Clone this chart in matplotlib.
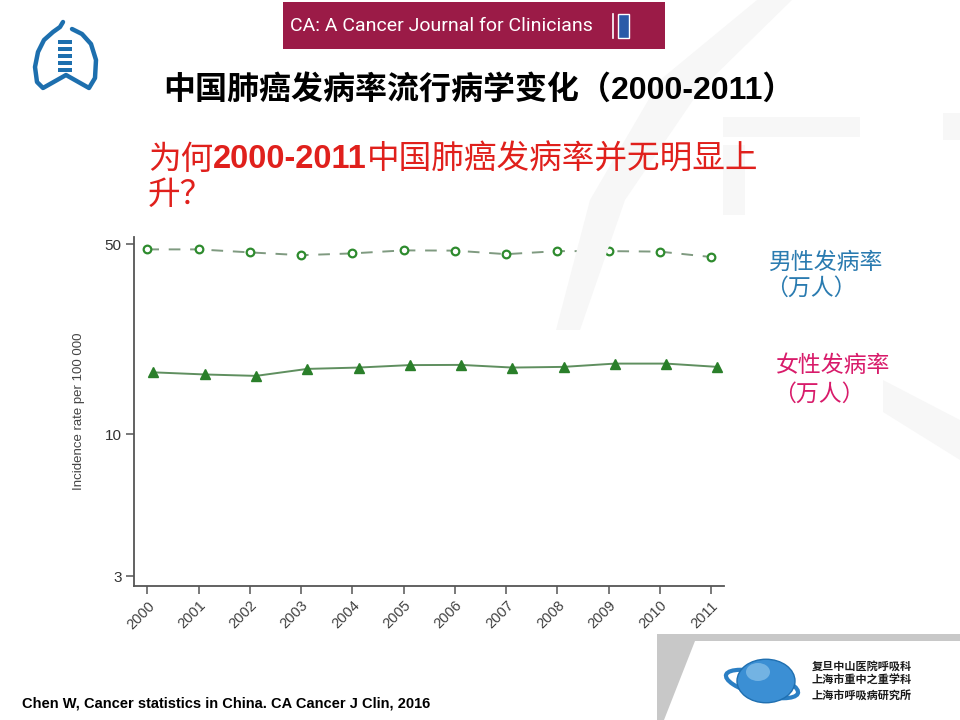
import numpy as np
import matplotlib
matplotlib.use("Agg")
import matplotlib.pyplot as plt
from matplotlib.patches import Rectangle, Polygon, Circle, Ellipse
from matplotlib.ticker import NullLocator, FixedLocator, FixedFormatter

plt.rcParams['font.family'] = ['Liberation Sans', 'Noto Sans CJK SC', 'DejaVu Sans']

# data (incidence per 100 000, log scale)
years = [2000, 2001, 2002, 2003, 2004, 2005, 2006, 2007, 2008, 2009, 2010, 2011]
male_rate = [47.9, 47.9, 46.7, 45.6, 46.3, 47.5, 47.4, 46.0, 47.2, 47.2, 47.0, 44.9]
female_rate = [16.9, 16.6, 16.4, 17.4, 17.6, 17.97, 18.0, 17.6, 17.7, 18.2, 18.2, 17.7]
y_ticks = [3, 10, 50]
y_ticklabels = ["3", "10", "50"]

W, H = 960, 720
fig = plt.figure(figsize=(9.6, 7.2), dpi=100)
fig.patch.set_facecolor("white")


def fx(x):
    return x / W


def fy(y):
    return 1 - y / H


# faint watermark shapes in the background
wm = "#f7f7f7"
band = [(757, 0), (792, 0), (700, 90), (625, 200), (580, 330), (556, 330),
        (590, 200), (660, 80)]
fig.patches.append(Polygon([(fx(a), fy(b)) for a, b in band], closed=True,
                           transform=fig.transFigure, facecolor=wm, edgecolor="none", zorder=0))
bars = [[(723, 117), (860, 117), (860, 137), (723, 137)],
        [(723, 145), (745, 145), (745, 215), (723, 215)],
        [(883, 380), (960, 420), (960, 460), (883, 412)],
        [(943, 113), (960, 113), (960, 140), (943, 140)]]
for b in bars:
    fig.patches.append(Polygon([(fx(a), fy(c)) for a, c in b], closed=True,
                               transform=fig.transFigure, facecolor=wm, edgecolor="none", zorder=0))

# journal banner
fig.patches.append(Rectangle((fx(283), fy(49)), fx(665) - fx(283), fy(2) - fy(49),
                             transform=fig.transFigure, facecolor="#9b1b47", edgecolor="none", zorder=1))
fig.text(fx(290), fy(26), "CA: A Cancer Journal for Clinicians", color="white", fontsize=14,
         ha="left", va="center", family=['Roboto', 'DejaVu Sans'], zorder=2)
fig.patches.append(Rectangle((fx(618), fy(38)), fx(11), 24 / H,
                             transform=fig.transFigure, facecolor="#2a5aa8", edgecolor="white",
                             linewidth=1, zorder=2))
fig.lines.append(plt.Line2D([fx(613), fx(613)], [fy(14), fy(38)], transform=fig.transFigure,
                            color="white", lw=1.2, zorder=2))

# lung logo top-left
lung = [(63, 22), (60, 27), (53, 32), (44, 40), (38, 52), (35, 67), (37, 82), (43, 88),
        (66, 75), (89, 88), (95, 78), (96, 60), (91, 44), (82, 34), (72, 29)]
lx = [fx(p[0]) for p in lung]
ly = [fy(p[1]) for p in lung]
fig.lines.append(plt.Line2D(lx, ly, transform=fig.transFigure, color="#1d6fae", lw=3.2,
                            solid_capstyle="round", solid_joinstyle="round"))
for yy in [40, 47, 54, 61, 68]:
    fig.patches.append(Rectangle((fx(58), fy(yy + 4)), fx(14), 4 / H, transform=fig.transFigure,
                                 facecolor="#1d6fae", edgecolor="none"))

# title and red question
fig.text(fx(163), fy(90), "中国肺癌发病率流行病学变化（2000-2011）", fontsize=23, fontweight="bold",
         color="black", ha="left", va="center")

renderer = fig.canvas.get_renderer()


def run_text(x, y, pieces, **kw):
    for s, weight in pieces:
        t = fig.text(x, y, s, fontweight=weight, ha="left", va="center", **kw)
        x += t.get_window_extent(renderer).width / W


red = "#e0201c"
run_text(fx(148), fy(160), [("为何", "normal"), ("2000-2011", "bold"),
                            ("中国肺癌发病率并无明显上", "normal")], fontsize=23.5, color=red)
run_text(fx(148), fy(195), [("升？", "normal")], fontsize=23.5, color=red)

# chart
ax = fig.add_axes([fx(134), fy(586), fx(724) - fx(134), fy(237) - fy(586)])
ax.plot(years, male_rate, linestyle=(0, (6, 5)), color="#7f9a80", lw=1.4, marker="o",
        markersize=5.5, markerfacecolor="white", markeredgecolor="#2e8b2e", markeredgewidth=1.6)
ax.plot(np.array(years) + 0.12, female_rate, linestyle="-", color="#5f8f5f", lw=1.4, marker="^",
        markersize=7, markerfacecolor="#2a7f2a", markeredgecolor="#2a7f2a")
ax.set_yscale("log")
ax.set_ylim(2.765, 53.2)
ax.set_xlim(1999.74, 2011.25)
ax.yaxis.set_major_locator(FixedLocator(y_ticks))
ax.yaxis.set_major_formatter(FixedFormatter(y_ticklabels))
ax.yaxis.set_minor_locator(NullLocator())
ax.set_xticks(years)
ax.set_xticklabels([str(y) for y in years], rotation=45, ha="right", va="top",
                   rotation_mode="anchor", fontsize=10.5, color="#404040")
for lab in ax.get_yticklabels():
    lab.set_fontsize(11)
    lab.set_color("#333333")
for side in ["top", "right"]:
    ax.spines[side].set_visible(False)
for side in ["left", "bottom"]:
    ax.spines[side].set_color("#555555")
    ax.spines[side].set_linewidth(1.3)
ax.tick_params(direction="out", length=6, width=1.1, color="#555555", pad=3)
ax.set_ylabel("Incidence rate per 100 000", fontsize=9.5, color="#444444", labelpad=14)
ax.patch.set_alpha(0)

# side labels
blue = "#2a7bb0"
pink = "#d81b6a"
fig.text(fx(768), fy(262), "男性发病率", fontsize=16.5, color=blue, ha="left", va="center",
         family=['Noto Sans CJK SC'])
fig.text(fx(765), fy(288), "（万人）", fontsize=16.5, color=blue, ha="left", va="center",
         family=['Noto Sans CJK SC'])
fig.text(fx(776), fy(366), "女性发病率", fontsize=16.5, color=pink, ha="left", va="center",
         family=['Noto Sans CJK SC'])
fig.text(fx(773), fy(394), "（万人）", fontsize=16.5, color=pink, ha="left", va="center",
         family=['Noto Sans CJK SC'])

# citation
fig.text(fx(22), fy(703), "Chen W, Cancer statistics in China. CA Cancer J Clin, 2016",
         fontsize=10.5, fontweight="bold", color="black", ha="left", va="center")

# bottom-right institution block
gray = "#c8c8c8"
fig.patches.append(Polygon([(fx(657), fy(634)), (fx(960), fy(634)), (fx(960), fy(641)),
                            (fx(695), fy(641)), (fx(664), fy(720)), (fx(657), fy(720))],
                           closed=True, transform=fig.transFigure, facecolor=gray,
                           edgecolor="none", zorder=1))
fig.patches.append(Ellipse((fx(762), fy(684)), fx(76), 22 / H, angle=-20, transform=fig.transFigure,
                           facecolor="none", edgecolor="#2b7fc4", lw=3, zorder=2))
fig.patches.append(Circle((fx(766), fy(681)), fx(29), transform=fig.transFigure,
                          facecolor="#3b8fd4", edgecolor="#1f6fb0", lw=1, zorder=3))
fig.patches.append(Circle((fx(758), fy(672)), fx(12), transform=fig.transFigure,
                          facecolor="#8cc3ea", edgecolor="none", alpha=0.7, zorder=3))
for i, line in enumerate(["复旦中山医院呼吸科", "上海市重中之重学科", "上海市呼吸病研究所"]):
    fig.text(fx(812), fy(666 + i * 14.5), line, fontsize=8, fontweight="bold", color="#1a1a1a",
             ha="left", va="center", family=['Noto Sans CJK SC'], zorder=4)

fig.savefig("out.png", dpi=100, facecolor="white")
